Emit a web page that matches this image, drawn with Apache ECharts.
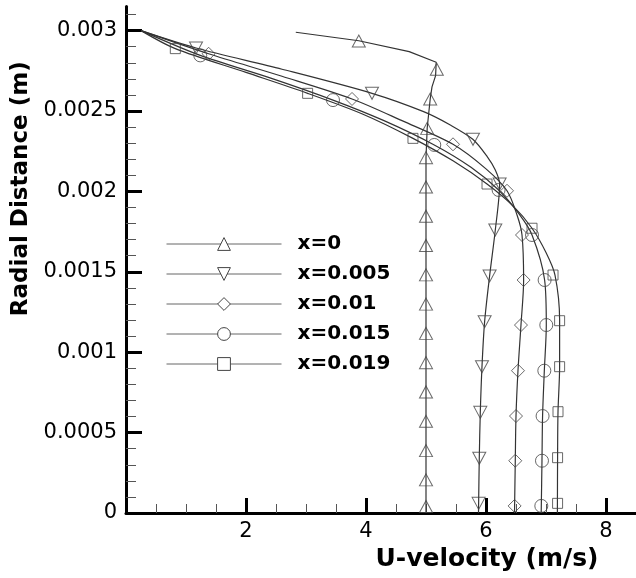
<!DOCTYPE html>
<html>
<head>
<meta charset="utf-8">
<script src="https://cdn.jsdelivr.net/npm/echarts@6/dist/echarts.min.js"></script>
<style>
  html, body { margin: 0; padding: 0; background: #fff; }
  #chart { width: 636px; height: 578px; }
</style>
</head>
<body>
<div id="chart"></div>
<script>
// curve names (axial stations)
var seriesNames = ['x=0', 'x=0.005', 'x=0.01', 'x=0.015', 'x=0.019'];

// profile lines: [U-velocity, radial distance]
var line_x0 = [[2.83,0.00299],[3.88,0.002937],[4.72,0.002869],[5.17,0.002803],[5.16,0.00272],[5.1,0.00265],
  [5.07,0.002575],[5.02,0.002394],[5.0,0.00221],[5.0,0]];
var line_x005 = [[0.25,0.003],[1.167,0.002892],[2.6,0.00276],[4.10,0.00261],[4.96,0.002496],[5.405,0.002413],
  [5.78,0.002324],[6.02,0.002216],[6.155,0.002133],[6.227,0.002046],[6.155,0.00176],[6.06,0.001474],
  [5.977,0.00119],[5.933,0.00091],[5.905,0.000626],[5.888,0.00034],[5.875,0]];
var line_x01 = [[0.25,0.003],[1.377,0.002856],[2.6,0.002716],[3.767,0.002575],[4.6,0.00244],[5.45,0.002293],
  [6.0,0.00214],[6.35,0.002004],[6.52,0.00185],[6.60,0.001729],[6.627,0.001449],[6.583,0.001169],
  [6.533,0.000885],[6.5,0.000603],[6.488,0.000325],[6.475,0]];
var line_x015 = [[0.25,0.003],[1.238,0.002846],[2.4,0.002706],[3.45,0.002568],[4.3,0.00244],[5.138,0.002289],
  [5.75,0.00215],[6.21,0.002009],[6.55,0.00186],[6.767,0.001729],[6.977,0.001449],[7.005,0.001169],
  [6.972,0.000885],[6.943,0.000603],[6.933,0.000325],[6.92,0]];
var line_x019 = [[0.25,0.003],[0.822,0.002888],[2.0,0.00274],[3.027,0.00261],[3.95,0.00248],[4.783,0.00233],
  [5.45,0.00219],[6.017,0.002046],[6.45,0.00191],[6.767,0.001771],[7.0,0.00162],[7.15,0.00148],
  [7.227,0.0012],[7.227,0.00091],[7.2,0.00063],[7.193,0.000344],[7.19,0]];

// symbol positions
var marks_x0 = [[3.88,0.002935],[5.18,0.00276],[5.07,0.002575],[5.02,0.002392],[5.0,0.00221],[5.0,0.002028],
  [5.0,0.001846],[5.0,0.001664],[5.0,0.001481],[5.0,0.001299],[5.0,0.001117],[5.0,0.000935],[5.0,0.000753],
  [5.0,0.00057],[5.0,0.000388],[5.0,0.000206],[5.0,0.00004]];
var marks_x005 = [[1.167,0.002892],[4.10,0.00261],[5.783,0.002324],[6.227,0.002046],[6.155,0.00176],
  [6.06,0.001474],[5.977,0.00119],[5.933,0.00091],[5.905,0.000626],[5.888,0.00034],[5.877,0.00006]];
var marks_x01 = [[1.377,0.002856],[3.767,0.002575],[5.45,0.002293],[6.35,0.002004],[6.60,0.001729],
  [6.627,0.001449],[6.583,0.001169],[6.533,0.000885],[6.5,0.000603],[6.488,0.000325],[6.477,0.000044]];
var marks_x015 = [[1.238,0.002846],[3.45,0.002568],[5.138,0.002289],[6.21,0.002009],[6.767,0.001729],
  [6.977,0.001449],[7.005,0.001169],[6.972,0.000885],[6.943,0.000603],[6.933,0.000325],[6.922,0.000044]];
var marks_x019 = [[0.822,0.002888],[3.027,0.00261],[4.783,0.00233],[6.017,0.002046],[6.767,0.001771],
  [7.117,0.00148],[7.227,0.001196],[7.227,0.00091],[7.2,0.00063],[7.193,0.000344],[7.193,0.00006]];

// tick values
var xTicks = [0, 2, 4, 6, 8];
var xLabels = [2, 4, 6, 8];
var yTicks = [0, 0.0005, 0.001, 0.0015, 0.002, 0.0025, 0.003];

var lines = [line_x0, line_x005, line_x01, line_x015, line_x019];
var marks = [marks_x0, marks_x005, marks_x01, marks_x015, marks_x019];
var shapes = ['triangle', 'triangle', 'diamond', 'circle', 'rect'];
var rotations = [0, 180, 0, 0, 0];
var sizes = [[13, 12], [13, 12], [13, 13], 13, 10];

var chart = echarts.init(document.getElementById('chart'));
var font = 'DejaVu Sans';

var series = [];
for (var i = 0; i < seriesNames.length; i++) {
  series.push({
    name: seriesNames[i],
    type: 'line',
    data: lines[i],
    showSymbol: false,
    symbol: shapes[i],
    symbolRotate: rotations[i],
    smooth: i === 0 ? false : 0.3,
    lineStyle: { color: '#333', width: 1.2 },
    itemStyle: { color: '#fff', borderColor: '#444', borderWidth: 1 },
    z: 2
  });
  series.push({
    name: seriesNames[i] + ' pts',
    type: 'scatter',
    data: marks[i],
    symbol: shapes[i],
    symbolRotate: rotations[i],
    symbolSize: sizes[i],
    itemStyle: { color: 'rgba(0,0,0,0)', borderColor: '#444', borderWidth: 1 },
    z: 3
  });
}

var option = {
  animation: false,
  backgroundColor: '#fff',
  grid: { left: 126, right: 0, top: 6.5, bottom: 65 },
  legend: {
    data: seriesNames,
    orient: 'vertical',
    left: 161,
    top: 229,
    itemWidth: 115,
    itemHeight: 16,
    itemGap: 10,
    selectedMode: false,
    itemStyle: { borderWidth: 1 },
    lineStyle: { width: 1, color: '#666' },
    textStyle: { fontFamily: font, fontWeight: 'bold', fontSize: 20, lineHeight: 20, color: '#000', padding: [0, 0, 0, 11] }
  },
  xAxis: {
    type: 'value',
    min: 0,
    max: 8.5,
    interval: 2,
    name: 'U-velocity (m/s)',
    nameLocation: 'middle',
    nameGap: 31,
    nameTextStyle: { fontFamily: font, fontWeight: 'bold', fontSize: 25, color: '#000', padding: [0, 0, 0, 212] },
    axisLine: { lineStyle: { color: '#000', width: 3 } },
    axisTick: { inside: true, length: 15, customValues: xTicks, lineStyle: { color: '#000', width: 3 } },
    minorTick: { show: true, splitNumber: 4, length: 9, lineStyle: { color: '#555', width: 1 } },
    axisLabel: { customValues: xLabels, margin: 8, fontFamily: font, fontSize: 21, color: '#000' },
    splitLine: { show: false }
  },
  yAxis: {
    type: 'value',
    min: 0,
    max: 0.00315,
    interval: 0.0005,
    name: 'Radial Distance (m)',
    nameLocation: 'middle',
    nameGap: 78,
    nameTextStyle: { fontFamily: font, fontWeight: 'bold', fontSize: 23, color: '#000', padding: [0, 0, 0, 142] },
    axisLine: { lineStyle: { color: '#000', width: 3 } },
    axisTick: { inside: true, length: 16, customValues: yTicks, lineStyle: { color: '#000', width: 3 } },
    minorTick: { show: true, splitNumber: 5, length: 10, lineStyle: { color: '#555', width: 1 } },
    axisLabel: {
      customValues: yTicks, margin: 9, fontFamily: font, fontSize: 21, color: '#000',
      formatter: function (v) { return v === 0 ? '0' : String(parseFloat(v.toPrecision(4))); }
    },
    splitLine: { show: false }
  },
  series: series
};

chart.setOption(option);
</script>
</body>
</html>
